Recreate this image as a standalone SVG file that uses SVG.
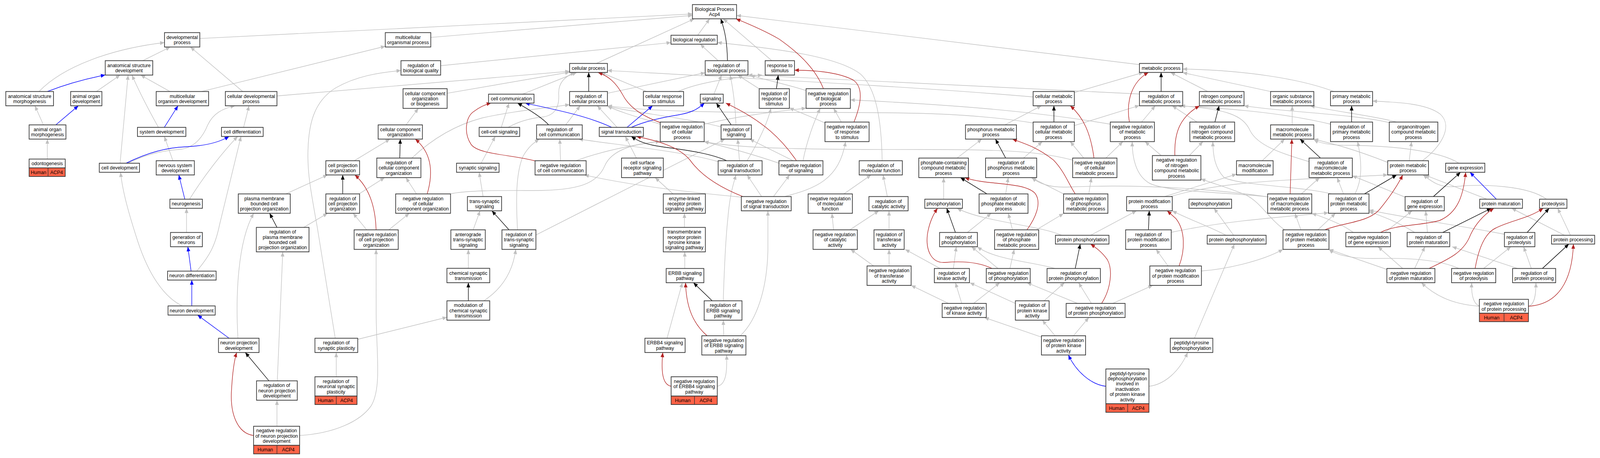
<svg xmlns="http://www.w3.org/2000/svg" width="4313" height="1173" viewBox="0 0 4313 1173">
<style>
.n rect{fill:#fff;stroke:#333;stroke-width:1.8}
.n rect.h{fill:#ff6347}
.n line{stroke:#333;stroke-width:1.5}
text{font-family:"Liberation Sans",Arial,sans-serif;font-size:13px;text-anchor:middle;fill:#000}
#edges path{fill:none;stroke-width:1.4}
#edges .g{stroke:#c0c0c0;marker-end:url(#mg)}
#edges .k{stroke:#000;marker-end:url(#mk)}
#edges .b{stroke:#0000ff;marker-end:url(#mb)}
#edges .r{stroke:#b22222;marker-end:url(#mr)}
</style>
<defs>
<marker id="mg" viewBox="0 0 12 10" refX="12" refY="5" markerWidth="12" markerHeight="10" markerUnits="userSpaceOnUse" orient="auto"><path d="M0,0L12,5L0,10z" fill="#c0c0c0"/></marker>
<marker id="mk" viewBox="0 0 12 10" refX="12" refY="5" markerWidth="12" markerHeight="10" markerUnits="userSpaceOnUse" orient="auto"><path d="M0,0L12,5L0,10z" fill="#000"/></marker>
<marker id="mb" viewBox="0 0 12 10" refX="12" refY="5" markerWidth="12" markerHeight="10" markerUnits="userSpaceOnUse" orient="auto"><path d="M0,0L12,5L0,10z" fill="#0000ff"/></marker>
<marker id="mr" viewBox="0 0 12 10" refX="12" refY="5" markerWidth="12" markerHeight="10" markerUnits="userSpaceOnUse" orient="auto"><path d="M0,0L12,5L0,10z" fill="#b22222"/></marker>
</defs>
<rect x="0" y="0" width="4313" height="1173" fill="#fff"/>
<g id="diagram" transform="scale(0.94968 1)">
<g id="edges">
<path class="g" d="M105,234.4 C170,170 300,125 443.5,109"/>
<path class="g" d="M384.8,155.4 L459,120.4"/>
<path class="g" d="M654.3,234.4 L513.3,120.4"/>
<path class="g" d="M259.9,234.4 L323.7,192.3"/>
<path class="g" d="M323.7,418 L345.3,192.3"/>
<path class="g" d="M427,326.2 C400,280 375,235 355.8,192.3"/>
<path class="g" d="M458.2,234.4 L379.2,192.3"/>
<path class="g" d="M543.2,234.4 L1038.6,118.5"/>
<path class="g" d="M117,319.8 L94.1,270.9"/>
<path class="g" d="M127.6,407.4 L127.6,356.3"/>
<path class="g" d="M656.6,326.2 L671.3,270.9"/>
<path class="g" d="M345,418 C400,392 450,385 480,383 C520,381 545,355 560,320 C575,290 600,278 633.6,270.9"/>
<path class="g" d="M511,510.2 C550,450 600,390 640.5,349.5"/>
<path class="g" d="M530.3,694.4 C565,655 580,630 592,575 L649.7,349.5"/>
<path class="g" d="M466,411.6 L443,349.5"/>
<path class="g" d="M502.8,595.4 L502.8,533.5"/>
<path class="g" d="M491.3,783.5 C440,760 400,700 372,620 C348,550 330,490 325,441.3"/>
<path class="g" d="M641.4,866.3 C635,760 640,620 684,546.3"/>
<path class="g" d="M903.7,866.3 L855.4,583 C838,490 830,450 830,400 C830,320 845,260 905,225 C960,195 1020,186 1080.9,180.6"/>
<path class="g" d="M1187.9,168.2 L1808.7,109.1"/>
<path class="g" d="M538.6,98.6 L1866.5,35.7"/>
<path class="g" d="M1161.2,95.9 L1866.5,39.5"/>
<path class="g" d="M746.6,245.7 L1535.5,182.5"/>
<path class="g" d="M1205.3,238.9 L1535.5,184.8"/>
<path class="g" d="M1408.7,241.2 L1554.8,185.5"/>
<path class="g" d="M1094.6,319.8 L1127.7,277.6"/>
<path class="g" d="M955,411.6 L1051,356.3"/>
<path class="g" d="M1110.3,404.8 C1160,360 1220,322 1300,302 C1380,285 1460,278 1535.5,268"/>
<path class="g" d="M1351.3,326.2 L1372,264.1"/>
<path class="g" d="M1297,418 L1335,349.5"/>
<path class="g" d="M1302.2,503.4 L1291.6,441.3"/>
<path class="g" d="M967.9,496.6 L1036.8,454.9"/>
<path class="g" d="M770.5,496.6 L883,448.1"/>
<path class="g" d="M1122.7,496.6 L1094.2,454.9"/>
<path class="g" d="M1213.6,496.6 C1260,486 1380,488 1440,488 C1560,488 1610,470 1630,425 C1650,380 1720,367 1779.8,362"/>
<path class="g" d="M988.6,588.6 L951.9,546.3"/>
<path class="g" d="M1048.3,588.6 L1103.4,546.3"/>
<path class="g" d="M818.7,582.4 L883,546.3"/>
<path class="g" d="M747.5,975.4 L762.2,645"/>
<path class="g" d="M746.6,1091.7 L746.6,1025"/>
<path class="g" d="M807.7,1115.4 C900,1110 970,1080 1000,1040 C1030,995 1014,900 1014,800 L1013.8,638.7"/>
<path class="g" d="M964.3,869 L1204.8,812.5"/>
<path class="g" d="M906.4,964.9 L906.4,902.8"/>
<path class="g" d="M1304,770.4 C1350,742 1382,700 1390.3,638.7"/>
<path class="g" d="M1262.5,687.2 L1262.5,638.7"/>
<path class="g" d="M1275.5,588.6 L1294,539.9"/>
<path class="g" d="M1395,588.6 C1390,500 1392,440 1410,400 C1425,375 1440,365 1453.8,356.3"/>
<path class="g" d="M1444.6,601.8 L1954.2,356.3"/>
<path class="g" d="M1511,411.6 L1509,356.3"/>
<path class="g" d="M1525,319.8 L1564,270.9"/>
<path class="g" d="M1663.6,326.2 L1610,270.9"/>
<path class="g" d="M1984,319.8 C1982,270 1975,220 1968,192.3"/>
<path class="g" d="M1924.4,241.2 L1945,192.3"/>
<path class="g" d="M2046,227.2 L1988.7,192.3"/>
<path class="g" d="M1828,234.4 C1880,212 1960,200 2055,192.3"/>
<path class="g" d="M1743,234.4 L1620,185.5"/>
<path class="g" d="M1637.4,238.9 L1901,186.2"/>
<path class="g" d="M1607.6,162.5 L1871.6,48.2"/>
<path class="g" d="M1880.8,90.3 L1913,48.2"/>
<path class="g" d="M1935.9,155.4 L1887.7,113.2"/>
<path class="g" d="M2080.5,155.4 L1949.6,48.2"/>
<path class="g" d="M3071.5,165.5 L1985.5,39.5"/>
<path class="g" d="M2378,411.6 C2376,300 2360,225 2320,190 C2260,145 2100,125 1933.6,109"/>
<path class="g" d="M2172.9,232 C2120,215 2060,205 2023,192.3"/>
<path class="g" d="M3071.5,240.8 C2800,225 2400,210 2016,192"/>
<path class="g" d="M2784.9,248.3 C2500,225 2200,210 1637.4,180.6"/>
<path class="g" d="M2784.9,315 C2600,286 2400,288 2160,288 C1900,288 1750,285 1637.4,270.9"/>
<path class="g" d="M2896.1,321.7 L3071.5,270.1"/>
<path class="g" d="M2708.7,319.8 L2807.4,270.9"/>
<path class="g" d="M2896,237 L3082,185.5"/>
<path class="g" d="M2580,404.8 L2646.7,356.3"/>
<path class="g" d="M2759.2,404.8 L2809.7,362.7"/>
<path class="g" d="M2921.3,404.8 L2885,362.7"/>
<path class="g" d="M2981,404.8 L3027,362.7"/>
<path class="g" d="M2891.5,410 C2800,387 2700,383 2500,383 C2200,383 2000,382 1898.2,362.7"/>
<path class="g" d="M2867,496.6 L2779.8,454.9"/>
<path class="g" d="M2935,496.6 L2942,454.9"/>
<path class="g" d="M2711,496.6 L2717.9,454.9"/>
<path class="g" d="M2543.7,510.2 L2543.7,454.9"/>
<path class="g" d="M2274.8,496.6 L2348,448.1"/>
<path class="g" d="M2391.9,503.4 L2380.4,448.1"/>
<path class="g" d="M2115,503.4 C2200,482 2262,460 2279.4,362.7"/>
<path class="g" d="M2247,588.6 L2242.6,546.3"/>
<path class="g" d="M2290.9,588.6 L2368.9,539.9"/>
<path class="g" d="M2396.5,588.6 L2396.5,539.9"/>
<path class="g" d="M2607.7,595.4 L2672,546.3"/>
<path class="g" d="M2862,602.6 C2800,577 2650,568 2580,533.5"/>
<path class="g" d="M2940,602.6 L3063.7,539.9"/>
<path class="g" d="M3304.7,602.6 C3260,580 3200,560 3160,539.9"/>
<path class="g" d="M3325.4,602.6 L3272.6,533.5"/>
<path class="g" d="M3139.4,503.4 L3333.2,446"/>
<path class="g" d="M3155.5,503.4 C3300,462 3500,460 3740.8,448"/>
<path class="g" d="M3157.3,595 C3300,566 3450,556 3581.1,545"/>
<path class="g" d="M3148.6,681.2 L3116.5,638.7"/>
<path class="g" d="M3238.6,694 C3300,690 3400,670 3458.5,638.7"/>
<path class="g" d="M2942,777.1 L2907.5,724.1"/>
<path class="g" d="M2999.4,777.1 L3107.3,730.9"/>
<path class="g" d="M2905,777.1 L2768.4,724.1"/>
<path class="g" d="M2893.8,859.9 L2935,813.2"/>
<path class="g" d="M3097.2,989.3 C3140,985 3180,950 3201.4,902.8"/>
<path class="g" d="M3219.8,866.3 L3327.6,625.1"/>
<path class="g" d="M3255.6,234.4 L3155.5,185.5"/>
<path class="g" d="M3425,234.4 L3188.1,186"/>
<path class="g" d="M3596,234.4 C3500,200 3350,180 3188.1,176.8"/>
<path class="g" d="M3077.4,312.6 L3114.2,270.9"/>
<path class="g" d="M3226.6,312.6 L3160,270.9"/>
<path class="g" d="M3130.2,398.4 L3086.6,362.7"/>
<path class="g" d="M3206,398.4 L3242.7,362.7"/>
<path class="g" d="M2993,318 C2800,287 2600,270 2292.2,255.8"/>
<path class="g" d="M3586.6,318 C3450,287 3300,277 3173.8,270.9"/>
<path class="g" d="M3745,314 C3650,292 3450,286 3353.4,270.9"/>
<path class="g" d="M3765,312.6 C3700,296 3600,286 3532,270.9"/>
<path class="g" d="M3483.3,319.8 L3483.3,270.9"/>
<path class="g" d="M3402.5,411.6 L3463,356.3"/>
<path class="g" d="M3508,496.6 L3557.2,454.9"/>
<path class="g" d="M3621.5,496.6 L3604.5,454.9"/>
<path class="g" d="M3528.8,414 C3450,392 3390,372 3370,335 C3350,292 3300,280 3183,270.9"/>
<path class="g" d="M3417.2,504 C3300,492 3150,492 3100,470 C3060,450 3052,400 3052,362.7"/>
<path class="g" d="M3834,411.6 C3880,380 3920,325 3882,292 C3845,265 3770,262 3700,258.8"/>
<path class="g" d="M3798.7,411.6 L3805.1,362.7"/>
<path class="g" d="M3740.8,416 C3650,382 3600,370 3541.6,356.3"/>
<path class="g" d="M3652.7,496.6 C3672,460 3672,420 3659.6,362.7"/>
<path class="g" d="M3788,505 L3645.3,450"/>
<path class="g" d="M3932.8,418 C3880,386 3750,372 3620,372 C3580,371 3555,365 3541.6,358"/>
<path class="g" d="M4008.5,510.2 L3841,448.1"/>
<path class="g" d="M4169,510.2 C4120,476 4000,470 3920,478 C3880,481 3860,465 3836,448.1"/>
<path class="g" d="M4217.4,602.6 L4075,533.5"/>
<path class="g" d="M4233.5,602.6 L4199,533.5"/>
<path class="g" d="M3813.4,595.4 C3780,575 3740,558 3690.3,541.8"/>
<path class="g" d="M4055.4,600 C3950,580 3800,560 3690.3,538"/>
<path class="g" d="M3847.8,595.4 L3843.2,539.9"/>
<path class="g" d="M3733,595.4 L3806.5,539.9"/>
<path class="g" d="M3648,595.4 C3620,575 3580,560 3536.1,546.3"/>
<path class="g" d="M3506.7,588.6 L3490.7,546.3"/>
<path class="g" d="M3552.6,588.6 L3600,546.3"/>
<path class="g" d="M3463,588.6 C3420,560 3400,520 3360,500 C3310,480 3270,470 3237.2,458"/>
<path class="g" d="M3590,496.6 C3500,476 3350,476 3300,455 C3275,430 3270,400 3269.3,362.7"/>
<path class="g" d="M3417.2,504 C3300,488 3100,470 2880,479 C2830,481 2800,470 2782,454.9"/>
<path class="g" d="M3781.2,687.6 L3714.7,631.9"/>
<path class="g" d="M3813.4,687.6 L3841,631.9"/>
<path class="g" d="M3738.5,690 L3582.5,638.7"/>
<path class="g" d="M3932.8,687.6 C3880,665 3800,660 3700,662 C3640,662 3600,652 3582.5,638.7"/>
<path class="g" d="M3999.3,687.6 L4072.8,631.9"/>
<path class="g" d="M4127.9,687.6 L4107.2,631.9"/>
<path class="g" d="M4091,687.6 L3914.4,631.9"/>
<path class="g" d="M3987.9,784.3 C3920,780 3870,760 3831.7,724.1"/>
<path class="g" d="M3990,784 C3970,780 3966,750 3967.2,724.1"/>
<path class="g" d="M4120.1,784.3 C4138,780 4140.5,750 4140.3,724.1"/>
<path class="g" d="M2534.2,687.6 L2440,638.7"/>
<path class="g" d="M2396.6,681.2 L2396.6,638.7"/>
<path class="g" d="M2355,681.2 L2293,638.7"/>
<path class="g" d="M2570,687.6 L2577.8,631.9"/>
<path class="g" d="M2690.3,687.6 L2619,631.9"/>
<path class="g" d="M2722.4,687.6 L2734,638.7"/>
<path class="g" d="M2844,687.6 C2780,670 2680,665 2634.7,631.9"/>
<path class="g" d="M2557,777.1 L2456.1,730.9"/>
<path class="g" d="M2592.5,777.1 L2575.5,724.1"/>
<path class="g" d="M2624.6,777.1 L2695,724.1"/>
<path class="g" d="M2737.1,777.1 L2614.5,724.1"/>
<path class="g" d="M2814.3,770.4 L2869.4,724.1"/>
<path class="g" d="M2807.4,863.3 L2653.6,813.2"/>
<path class="g" d="M2844,859.9 L2809.7,820"/>
<path class="g" d="M2729.3,588.6 L2718,546.3"/>
<path class="g" d="M2793.6,588.6 L2867,547"/>
<path class="g" d="M1715.5,404.8 L1685.6,349.5"/>
<path class="g" d="M1993.3,411.6 L1988.7,356.3"/>
<path class="g" d="M1936,414 C1850,390 1700,375 1559.4,356.3"/>
<path class="g" d="M2053,503.4 L2014,448.1"/>
<path class="g" d="M2085,503.4 L2128.7,448.1"/>
<path class="g" d="M2138,411.6 L2020.8,356.3"/>
<path class="g" d="M2164.6,411.6 C2175,360 2195,310 2211,277.6"/>
<path class="g" d="M2099.8,418 C2030,395 1960,377 1898.2,362.7"/>
<path class="g" d="M1552.5,411.6 C1620,388 1700,372 1779.8,362"/>
<path class="g" d="M2000,505 C1850,492 1700,475 1575.4,448.1"/>
<path class="g" d="M1814.2,496.6 L1766,454.9"/>
<path class="g" d="M1845,582.4 L1845,546.3"/>
<path class="g" d="M1845.9,687.6 L1845.9,645.1"/>
<path class="g" d="M1798.1,866.3 L1839.4,724.1"/>
<path class="g" d="M1951,859.9 L1949.6,820"/>
<path class="g" d="M1933.6,989.3 C1958,985 1960,950 1958.8,909.2"/>
<path class="g" d="M1949.6,770.4 C1952,700 1955,620 1962,560 C1967,500 1977,470 1984,448.1"/>
<path class="g" d="M1995.6,859.9 C2040,820 2068,740 2070,640 L2070,539.9"/>
<path class="g" d="M2014,411.6 C2040,370 2068,320 2078,277.6"/>
<path class="g" d="M2267.9,312.6 L2247.2,277.6"/>
<path class="g" d="M2223.8,315 C2190,300 2160,290 2127.8,276"/>
<path class="g" d="M1898.2,318 C2000,295 2100,285 2172.9,277"/>
<path class="g" d="M1779.8,318 C1720,300 1680,290 1637.4,272"/>
<path class="g" d="M1943.7,325 C1850,302 1700,287 1637.4,272"/>
<path class="g" d="M1369.7,326.2 C1400,310 1430,303 1460,300 C1500,296 1508,270 1506,240 C1505,210 1525,195 1550,185.5"/>
<path class="k" d="M1961,155.4 C1960,110 1955,80 1942.8,48.2"/>
<path class="k" d="M1587,234.4 L1587,185.5"/>
<path class="k" d="M1479,319.8 C1460,300 1425,280 1395,264.1"/>
<path class="k" d="M1971,319.8 L1931,264.1"/>
<path class="k" d="M2093,227.2 L2098,192.3"/>
<path class="k" d="M1077.6,404.8 L1079,356.3"/>
<path class="k" d="M923.9,496.6 L923.9,448.1"/>
<path class="k" d="M746.6,582.4 L726.9,546.3"/>
<path class="k" d="M725,975.4 L661.2,902.8"/>
<path class="k" d="M1262.5,770.4 L1262.5,724.1"/>
<path class="k" d="M1372,588.6 L1326,539.9"/>
<path class="k" d="M1958.8,411.6 C1900,386 1800,380 1760,372 C1730,366 1715,358 1701.7,349.5"/>
<path class="k" d="M1919.8,770.4 L1869.3,724.1"/>
<path class="k" d="M2841,312.6 L2841,270.9"/>
<path class="k" d="M2711,404.8 L2683.4,356.3"/>
<path class="k" d="M2660.5,496.6 L2589,454.9"/>
<path class="k" d="M2575.5,595.4 L2552,533.5"/>
<path class="k" d="M2898.4,687.6 L2912,625.1"/>
<path class="k" d="M3095.8,588.6 L3098,539.9"/>
<path class="k" d="M3130,234.4 L3130,185.5"/>
<path class="k" d="M3274.9,312.6 L3286.3,270.9"/>
<path class="k" d="M3643.5,312.6 L3643.5,270.9"/>
<path class="k" d="M3559.5,404.8 L3504.4,356.3"/>
<path class="k" d="M3678,496.6 L3765,448.1"/>
<path class="k" d="M3864,503.4 L3937,441.3"/>
<path class="k" d="M3889,595.4 L4020,533.5"/>
<path class="k" d="M4116.4,595.4 L4176,533.5"/>
<path class="k" d="M4157.7,687.6 L4229,625.1"/>
<path class="b" d="M127.6,234.4 C180,215 230,202 283.7,192"/>
<path class="b" d="M150.6,319.8 L211.2,270.9"/>
<path class="b" d="M443,326.2 L479.8,270.9"/>
<path class="b" d="M340,418 C400,390 450,378 500,376 C550,374 590,365 617.5,349.5"/>
<path class="b" d="M498.2,510.2 L482,448.1"/>
<path class="b" d="M515.1,694.4 L506.4,631.9"/>
<path class="b" d="M517,783.5 L517,717.3"/>
<path class="b" d="M617.5,866.3 L532.6,806.9"/>
<path class="b" d="M1649,326.2 C1590,300 1520,285 1415.6,264.1"/>
<path class="b" d="M1690.2,326.2 L1759.1,270.9"/>
<path class="b" d="M1701.7,326.2 C1740,310 1790,300 1830,294 C1865,288 1880,280 1899,264.1"/>
<path class="b" d="M4033.8,510.2 L3962.6,441.3"/>
<path class="b" d="M2981,989.3 C2940,985 2900,950 2880,909.2"/>
<path class="r" d="M2219.7,227.2 C2200,180 2160,140 2100,100 C2060,78 2020,62 1984,48.2"/>
<path class="r" d="M1779.8,314 C1740,300 1700,280 1680,245 C1660,210 1640,195 1612,185.5"/>
<path class="r" d="M1442.3,412 C1380,396 1290,396 1270,370 C1250,342 1255,302 1275,287 C1290,276 1305,268 1323.8,264.1"/>
<path class="r" d="M2147,411.6 C2110,360 2060,310 1956.5,264.1"/>
<path class="r" d="M2002.4,503.4 C1940,480 1890,450 1860,410 C1830,375 1770,360 1715.5,349.5"/>
<path class="r" d="M2302,312.6 C2320,270 2330,225 2300,205 C2260,185 2200,180 2141.6,179.8"/>
<path class="r" d="M1151.6,496.6 C1166,450 1168,395 1119.4,356.3"/>
<path class="r" d="M1013.8,588.6 C1012,530 995,480 956.5,448.1"/>
<path class="r" d="M683.6,1115.4 C640,1110 620,1060 624,1000 C627,950 632,920 638.2,902.8"/>
<path class="r" d="M1906,859.9 C1870,830 1850,790 1848,724.1"/>
<path class="r" d="M1809.1,989.3 C1785,985 1782,950 1786.6,902.8"/>
<path class="r" d="M2949,404.8 C2940,340 2920,300 2885,270.9"/>
<path class="r" d="M2898.4,496.6 C2880,470 2870,440 2840,410 C2800,380 2770,370 2729,356.3"/>
<path class="r" d="M2768.4,588.6 C2790,560 2810,520 2790,495 C2760,465 2660,475 2600.8,454.9"/>
<path class="r" d="M2674.2,687.6 C2640,672 2600,668 2550,672 C2510,676 2495,640 2500,600 C2505,570 2515,550 2527.3,533.5"/>
<path class="r" d="M2969.5,777.1 C2995,740 3000,690 2985,665 C2970,645 2955,635 2939.7,625.1"/>
<path class="r" d="M3178.4,681.2 C3195,640 3195,590 3170,560 L3146.3,539.9"/>
<path class="r" d="M3044.4,312.6 C3035,260 3050,210 3095.8,185.5"/>
<path class="r" d="M3167,398.4 C3165,340 3180,300 3233.5,270.9"/>
<path class="r" d="M3477.8,496.6 L3482.4,356.3"/>
<path class="r" d="M3571,588.6 C3620,570 3690,570 3720,535 C3750,500 3770,470 3781.2,448.1"/>
<path class="r" d="M3721.6,595.4 C3760,575 3830,578 3880,565 C3930,545 3945,500 3951,441.3"/>
<path class="r" d="M3852.4,687.6 C3900,665 3940,650 3960,610 C3975,575 4000,550 4027,533.5"/>
<path class="r" d="M3976.4,687.6 C3985,640 4000,600 4030,585 C4070,565 4120,560 4160,533.5"/>
<path class="r" d="M4120.1,784.3 C4200,780 4238,720 4241.3,625.1"/>
</g>
<g id="nodes">
<g id="bp" class="n"><rect x="1866.5" y="11.7" width="119" height="36.5"/><text x="1926" y="27.9">Biological Process</text><text x="1926" y="41.3">Acp4</text></g>
<g id="devproc" class="n"><rect x="443.5" y="83.5" width="95.1" height="36.9"/><text x="491.05" y="99.9">developmental</text><text x="491.05" y="113.3">process</text></g>
<g id="mop" class="n"><rect x="1038.6" y="83.5" width="122.6" height="36.9"/><text x="1099.9" y="99.9">multicellular</text><text x="1099.9" y="113.3">organismal process</text></g>
<g id="bioreg" class="n"><rect x="1808.7" y="90.3" width="124.9" height="22.9"/><text x="1871.15" y="106.4">biological regulation</text></g>
<g id="asd" class="n"><rect x="283.7" y="155.4" width="128.1" height="36.9"/><text x="347.75" y="171.8">anatomical structure</text><text x="347.75" y="185.2">development</text></g>
<g id="rbq" class="n"><rect x="1080.9" y="155.4" width="107" height="36.9"/><text x="1134.4" y="171.8">regulation of</text><text x="1134.4" y="185.2">biological quality</text></g>
<g id="cp" class="n"><rect x="1535.5" y="162.5" width="101.9" height="23"/><text x="1586.45" y="178.6">cellular process</text></g>
<g id="rbp" class="n"><rect x="1901" y="155.4" width="115.2" height="36.9"/><text x="1958.6" y="171.8">regulation of</text><text x="1958.6" y="185.2">biological process</text></g>
<g id="rts" class="n"><rect x="2062.6" y="155.4" width="79" height="36.9"/><text x="2102.1" y="171.8">response to</text><text x="2102.1" y="185.2">stimulus</text></g>
<g id="mp" class="n"><rect x="3071.5" y="162.5" width="116.6" height="23"/><text x="3129.8" y="178.6">metabolic process</text></g>
<g id="asm" class="n"><rect x="15.6" y="234.4" width="128.6" height="36.5"/><text x="79.9" y="250.6">anatomical structure</text><text x="79.9" y="264">morphogenesis</text></g>
<g id="aod" class="n"><rect x="190.5" y="234.4" width="84.1" height="36.5"/><text x="232.55" y="250.6">animal organ</text><text x="232.55" y="264">development</text></g>
<g id="mod" class="n"><rect x="421" y="234.4" width="141.4" height="36.5"/><text x="491.7" y="250.6">multicellular</text><text x="491.7" y="264">organism development</text></g>
<g id="cdp" class="n"><rect x="607.4" y="234.4" width="139.2" height="36.5"/><text x="677" y="250.6">cellular developmental</text><text x="677" y="264">process</text></g>
<g id="ccob" class="n"><rect x="1086.4" y="227.2" width="118.9" height="50.4"/><text x="1145.85" y="243.6">cellular component</text><text x="1145.85" y="257">organization</text><text x="1145.85" y="270.4">or biogenesis</text></g>
<g id="cc" class="n"><rect x="1316.9" y="241.2" width="122.6" height="22.9"/><text x="1378.2" y="257.3">cell communication</text></g>
<g id="rcp" class="n"><rect x="1535.5" y="234.4" width="101.9" height="36.5"/><text x="1586.45" y="250.6">regulation of</text><text x="1586.45" y="264">cellular process</text></g>
<g id="crs" class="n"><rect x="1734.3" y="234.4" width="108.4" height="36.5"/><text x="1788.5" y="250.6">cellular response</text><text x="1788.5" y="264">to stimulus</text></g>
<g id="sig" class="n"><rect x="1887.7" y="241.2" width="61.9" height="22.9"/><text x="1918.65" y="257.3">signaling</text></g>
<g id="rrs" class="n"><rect x="2046.5" y="227.2" width="81.3" height="50.4"/><text x="2087.15" y="243.6">regulation of</text><text x="2087.15" y="257">response to</text><text x="2087.15" y="270.4">stimulus</text></g>
<g id="nrbp" class="n"><rect x="2172.9" y="227.2" width="119.3" height="50.4"/><text x="2232.55" y="243.6">negative regulation</text><text x="2232.55" y="257">of biological</text><text x="2232.55" y="270.4">process</text></g>
<g id="cmp" class="n"><rect x="2784.9" y="234.4" width="111.2" height="36.5"/><text x="2840.5" y="250.6">cellular metabolic</text><text x="2840.5" y="264">process</text></g>
<g id="rmp" class="n"><rect x="3071.5" y="234.4" width="116.6" height="36.5"/><text x="3129.8" y="250.6">regulation of</text><text x="3129.8" y="264">metabolic process</text></g>
<g id="ncmp" class="n"><rect x="3233.1" y="234.4" width="120.3" height="36.5"/><text x="3293.25" y="250.6">nitrogen compound</text><text x="3293.25" y="264">metabolic process</text></g>
<g id="osmp" class="n"><rect x="3425" y="234.4" width="116.6" height="36.5"/><text x="3483.3" y="250.6">organic substance</text><text x="3483.3" y="264">metabolic process</text></g>
<g id="pmp" class="n"><rect x="3586.6" y="234.4" width="113.4" height="36.5"/><text x="3643.3" y="250.6">primary metabolic</text><text x="3643.3" y="264">process</text></g>
<g id="aom" class="n"><rect x="78.5" y="319.8" width="99.2" height="36.5"/><text x="128.1" y="336">animal organ</text><text x="128.1" y="349.4">morphogenesis</text></g>
<g id="sd" class="n"><rect x="370.5" y="326.2" width="130.5" height="23.3"/><text x="435.75" y="342.5">system development</text></g>
<g id="cd" class="n"><rect x="597" y="326.2" width="112.4" height="23.3"/><text x="653.2" y="342.5">cell differentiation</text></g>
<g id="cco" class="n"><rect x="1019.4" y="319.8" width="119.3" height="36.5"/><text x="1079.05" y="336">cellular component</text><text x="1079.05" y="349.4">organization</text></g>
<g id="ccs" class="n"><rect x="1291.6" y="326.2" width="109.3" height="23.3"/><text x="1346.25" y="342.5">cell-cell signaling</text></g>
<g id="rcc" class="n"><rect x="1446.4" y="319.8" width="123.1" height="36.5"/><text x="1507.95" y="336">regulation of</text><text x="1507.95" y="349.4">cell communication</text></g>
<g id="st" class="n"><rect x="1615.4" y="326.2" width="118.9" height="23.3"/><text x="1674.85" y="342.5">signal transduction</text></g>
<g id="nrcp" class="n"><rect x="1779.8" y="312.6" width="118.4" height="50.1"/><text x="1839" y="328.9">negative regulation</text><text x="1839" y="342.3">of cellular</text><text x="1839" y="355.7">process</text></g>
<g id="rsig" class="n"><rect x="1943.7" y="319.8" width="81.7" height="36.5"/><text x="1984.55" y="336">regulation of</text><text x="1984.55" y="349.4">signaling</text></g>
<g id="nrrs" class="n"><rect x="2223.8" y="312.6" width="118.9" height="50.1"/><text x="2283.25" y="328.9">negative regulation</text><text x="2283.25" y="342.3">of response</text><text x="2283.25" y="355.7">to stimulus</text></g>
<g id="phmp" class="n"><rect x="2602.6" y="319.8" width="137.3" height="36.5"/><text x="2671.25" y="336">phosphorus metabolic</text><text x="2671.25" y="349.4">process</text></g>
<g id="rcmp" class="n"><rect x="2784.9" y="312.6" width="111.2" height="50.1"/><text x="2840.5" y="328.9">regulation of</text><text x="2840.5" y="342.3">cellular metabolic</text><text x="2840.5" y="355.7">process</text></g>
<g id="nrmp" class="n"><rect x="2993" y="312.6" width="118.9" height="50.1"/><text x="3052.45" y="328.9">negative regulation</text><text x="3052.45" y="342.3">of metabolic</text><text x="3052.45" y="355.7">process</text></g>
<g id="rncmp" class="n"><rect x="3207.4" y="312.6" width="120.7" height="50.1"/><text x="3267.75" y="328.9">regulation of</text><text x="3267.75" y="342.3">nitrogen compound</text><text x="3267.75" y="355.7">metabolic process</text></g>
<g id="mmp" class="n"><rect x="3425" y="319.8" width="116.6" height="36.5"/><text x="3483.3" y="336">macromolecule</text><text x="3483.3" y="349.4">metabolic process</text></g>
<g id="rpmp" class="n"><rect x="3586.6" y="312.6" width="113.4" height="50.1"/><text x="3643.3" y="328.9">regulation of</text><text x="3643.3" y="342.3">primary metabolic</text><text x="3643.3" y="355.7">process</text></g>
<g id="oncmp" class="n"><rect x="3745" y="312.6" width="130.8" height="50.1"/><text x="3810.4" y="328.9">organonitrogen</text><text x="3810.4" y="342.3">compound metabolic</text><text x="3810.4" y="355.7">process</text></g>
<g id="odonto" class="n"><rect x="78.5" y="407.4" width="97.3" height="22.6"/><rect class="h" x="78.5" y="430" width="97.3" height="21.9"/><line x1="129.5" y1="430" x2="129.5" y2="451.9"/><text x="127.15" y="423.3">odontogenesis</text><text x="104" y="445.6">Human</text><text x="152.65" y="445.6">ACP4</text></g>
<g id="celldev" class="n"><rect x="267.7" y="418" width="108.3" height="23.3"/><text x="321.85" y="434.3">cell development</text></g>
<g id="nsd" class="n"><rect x="421" y="411.6" width="102.9" height="36.5"/><text x="472.45" y="427.8">nervous system</text><text x="472.45" y="441.2">development</text></g>
<g id="cpo" class="n"><rect x="878.4" y="411.6" width="90.9" height="36.5"/><text x="923.85" y="427.8">cell projection</text><text x="923.85" y="441.2">organization</text></g>
<g id="rcco" class="n"><rect x="1015.7" y="404.8" width="118.9" height="50.1"/><text x="1075.15" y="421.1">regulation of</text><text x="1075.15" y="434.5">cellular component</text><text x="1075.15" y="447.9">organization</text></g>
<g id="ss" class="n"><rect x="1230.6" y="418" width="114.7" height="23.3"/><text x="1287.95" y="434.3">synaptic signaling</text></g>
<g id="nrcc" class="n"><rect x="1442.3" y="411.6" width="137.7" height="36.5"/><text x="1511.15" y="427.8">negative regulation</text><text x="1511.15" y="441.2">of cell communication</text></g>
<g id="csrsp" class="n"><rect x="1675.5" y="404.8" width="112.5" height="50.1"/><text x="1731.75" y="421.1">cell surface</text><text x="1731.75" y="434.5">receptor signaling</text><text x="1731.75" y="447.9">pathway</text></g>
<g id="rst" class="n"><rect x="1935.9" y="411.6" width="118.4" height="36.5"/><text x="1995.1" y="427.8">regulation of</text><text x="1995.1" y="441.2">signal transduction</text></g>
<g id="nrsig" class="n"><rect x="2099.8" y="411.6" width="118.5" height="36.5"/><text x="2159.05" y="427.8">negative regulation</text><text x="2159.05" y="441.2">of signaling</text></g>
<g id="rmf" class="n"><rect x="2316.1" y="411.6" width="116.2" height="36.5"/><text x="2374.2" y="427.8">regulation of</text><text x="2374.2" y="441.2">molecular function</text></g>
<g id="pccmp" class="n"><rect x="2476.8" y="404.8" width="133.6" height="50.1"/><text x="2543.6" y="421.1">phosphate-containing</text><text x="2543.6" y="434.5">compound metabolic</text><text x="2543.6" y="447.9">process</text></g>
<g id="rphmp" class="n"><rect x="2656.8" y="404.8" width="137.7" height="50.1"/><text x="2725.65" y="421.1">regulation of</text><text x="2725.65" y="434.5">phosphorus metabolic</text><text x="2725.65" y="447.9">process</text></g>
<g id="nrcmp" class="n"><rect x="2891.5" y="404.8" width="119.4" height="50.1"/><text x="2951.2" y="421.1">negative regulation</text><text x="2951.2" y="434.5">of cellular</text><text x="2951.2" y="447.9">metabolic process</text></g>
<g id="nrncmp" class="n"><rect x="3106.4" y="398.4" width="130.8" height="62.9"/><text x="3171.8" y="414.4">negative regulation</text><text x="3171.8" y="427.8">of nitrogen</text><text x="3171.8" y="441.2">compound metabolic</text><text x="3171.8" y="454.6">process</text></g>
<g id="mm" class="n"><rect x="3333.2" y="411.6" width="98.7" height="36.5"/><text x="3382.55" y="427.8">macromolecule</text><text x="3382.55" y="441.2">modification</text></g>
<g id="rmmp" class="n"><rect x="3528.8" y="404.8" width="116.5" height="50.1"/><text x="3587.05" y="421.1">regulation of</text><text x="3587.05" y="434.5">macromolecule</text><text x="3587.05" y="447.9">metabolic process</text></g>
<g id="prmp" class="n"><rect x="3740.8" y="411.6" width="109.8" height="36.5"/><text x="3795.7" y="427.8">protein metabolic</text><text x="3795.7" y="441.2">process</text></g>
<g id="ge" class="n"><rect x="3897" y="418" width="105.6" height="23.3"/><text x="3949.8" y="434.3">gene expression</text></g>
<g id="neurog" class="n"><rect x="458" y="510.2" width="87.5" height="23.3"/><text x="501.75" y="526.5">neurogenesis</text></g>
<g id="pmbcpo" class="n"><rect x="642.3" y="496.6" width="140.1" height="49.7"/><text x="712.35" y="512.7">plasma membrane</text><text x="712.35" y="526.1">bounded cell</text><text x="712.35" y="539.5">projection organization</text></g>
<g id="rcpo" class="n"><rect x="878.4" y="496.6" width="90.9" height="49.7"/><text x="923.85" y="512.7">regulation of</text><text x="923.85" y="526.1">cell projection</text><text x="923.85" y="539.5">organization</text></g>
<g id="nrcco" class="n"><rect x="1066.6" y="496.6" width="147.9" height="49.7"/><text x="1140.55" y="512.7">negative regulation</text><text x="1140.55" y="526.1">of cellular</text><text x="1140.55" y="539.5">component organization</text></g>
<g id="tss" class="n"><rect x="1260" y="503.4" width="92.2" height="36.5"/><text x="1306.1" y="519.6">trans-synaptic</text><text x="1306.1" y="533">signaling</text></g>
<g id="elrpsp" class="n"><rect x="1788" y="496.6" width="113.4" height="49.7"/><text x="1844.7" y="512.7">enzyme-linked</text><text x="1844.7" y="526.1">receptor protein</text><text x="1844.7" y="539.5">signaling pathway</text></g>
<g id="nrst" class="n"><rect x="1998.3" y="503.4" width="134.5" height="36.5"/><text x="2065.55" y="519.6">negative regulation</text><text x="2065.55" y="533">of signal transduction</text></g>
<g id="nrmf" class="n"><rect x="2178.4" y="496.6" width="119.3" height="49.7"/><text x="2238.05" y="512.7">negative regulation</text><text x="2238.05" y="526.1">of molecular</text><text x="2238.05" y="539.5">function</text></g>
<g id="rca" class="n"><rect x="2342.3" y="503.4" width="105.6" height="36.5"/><text x="2395.1" y="519.6">regulation of</text><text x="2395.1" y="533">catalytic activity</text></g>
<g id="phos" class="n"><rect x="2492.9" y="510.2" width="101.4" height="23.3"/><text x="2543.6" y="526.5">phosphorylation</text></g>
<g id="rphosmp" class="n"><rect x="2639.3" y="496.6" width="131.8" height="49.7"/><text x="2705.2" y="512.7">regulation of</text><text x="2705.2" y="526.1">phosphate metabolic</text><text x="2705.2" y="539.5">process</text></g>
<g id="nrphmp" class="n"><rect x="2867" y="496.6" width="119.5" height="49.7"/><text x="2926.75" y="512.7">negative regulation</text><text x="2926.75" y="526.1">of phosphorus</text><text x="2926.75" y="539.5">metabolic process</text></g>
<g id="pmodp" class="n"><rect x="3037" y="503.4" width="123" height="36.5"/><text x="3098.5" y="519.6">protein modification</text><text x="3098.5" y="533">process</text></g>
<g id="dephos" class="n"><rect x="3205" y="510.2" width="114.9" height="23.3"/><text x="3262.45" y="526.5">dephosphorylation</text></g>
<g id="nrmmp" class="n"><rect x="3417.2" y="496.6" width="118.9" height="49.7"/><text x="3476.65" y="512.7">negative regulation</text><text x="3476.65" y="526.1">of macromolecule</text><text x="3476.65" y="539.5">metabolic process</text></g>
<g id="rprmp" class="n"><rect x="3581.1" y="496.6" width="109.2" height="49.7"/><text x="3635.7" y="512.7">regulation of</text><text x="3635.7" y="526.1">protein metabolic</text><text x="3635.7" y="539.5">process</text></g>
<g id="rge" class="n"><rect x="3787.7" y="503.4" width="105.6" height="36.5"/><text x="3840.5" y="519.6">regulation of</text><text x="3840.5" y="533">gene expression</text></g>
<g id="pmat" class="n"><rect x="3988.8" y="510.2" width="115.2" height="23.3"/><text x="4046.4" y="526.5">protein maturation</text></g>
<g id="prot" class="n"><rect x="4150" y="510.2" width="73.9" height="23.3"/><text x="4186.95" y="526.5">proteolysis</text></g>
<g id="gon" class="n"><rect x="459.6" y="595.4" width="85.9" height="36.5"/><text x="502.55" y="611.6">generation of</text><text x="502.55" y="625">neurons</text></g>
<g id="rpmbcpo" class="n"><rect x="691" y="582.4" width="142" height="62.6"/><text x="762" y="598.2">regulation of</text><text x="762" y="611.6">plasma membrane</text><text x="762" y="625">bounded cell</text><text x="762" y="638.4">projection organization</text></g>
<g id="nrcpo" class="n"><rect x="954.6" y="588.6" width="118.9" height="50.1"/><text x="1014.05" y="604.9">negative regulation</text><text x="1014.05" y="618.3">of cell projection</text><text x="1014.05" y="631.7">organization</text></g>
<g id="atss" class="n"><rect x="1215.4" y="588.6" width="92.8" height="50.1"/><text x="1261.8" y="604.9">anterograde</text><text x="1261.8" y="618.3">trans-synaptic</text><text x="1261.8" y="631.7">signaling</text></g>
<g id="rtss" class="n"><rect x="1353.1" y="588.6" width="91.5" height="50.1"/><text x="1398.85" y="604.9">regulation of</text><text x="1398.85" y="618.3">trans-synaptic</text><text x="1398.85" y="631.7">signaling</text></g>
<g id="trptksp" class="n"><rect x="1788" y="582.4" width="113.4" height="62.7"/><text x="1844.7" y="598.2">transmembrane</text><text x="1844.7" y="611.6">receptor protein</text><text x="1844.7" y="625">tyrosine kinase</text><text x="1844.7" y="638.4">signaling pathway</text></g>
<g id="ncat" class="n"><rect x="2191.7" y="588.6" width="119.3" height="50.1"/><text x="2251.35" y="604.9">negative regulation</text><text x="2251.35" y="618.3">of catalytic</text><text x="2251.35" y="631.7">activity</text></g>
<g id="rta" class="n"><rect x="2356" y="588.6" width="81.3" height="50.1"/><text x="2396.65" y="604.9">regulation of</text><text x="2396.65" y="618.3">transferase</text><text x="2396.65" y="631.7">activity</text></g>
<g id="rphos" class="n"><rect x="2532.8" y="595.4" width="101.9" height="36.5"/><text x="2583.75" y="611.6">regulation of</text><text x="2583.75" y="625">phosphorylation</text></g>
<g id="nrphosmp" class="n"><rect x="2681.1" y="588.6" width="118.9" height="50.1"/><text x="2740.55" y="604.9">negative regulation</text><text x="2740.55" y="618.3">of phosphate</text><text x="2740.55" y="631.7">metabolic process</text></g>
<g id="pphos" class="n"><rect x="2845" y="602.6" width="144.3" height="22.5"/><text x="2917.15" y="618.5">protein phosphorylation</text></g>
<g id="rpmodp" class="n"><rect x="3034.3" y="588.6" width="123" height="50.1"/><text x="3095.8" y="604.9">regulation of</text><text x="3095.8" y="618.3">protein modification</text><text x="3095.8" y="631.7">process</text></g>
<g id="pdephos" class="n"><rect x="3254.2" y="602.6" width="158.8" height="22.5"/><text x="3333.6" y="618.5">protein dephosphorylation</text></g>
<g id="nrprmp" class="n"><rect x="3458.5" y="588.6" width="124" height="50.1"/><text x="3520.5" y="604.9">negative regulation</text><text x="3520.5" y="618.3">of protein metabolic</text><text x="3520.5" y="631.7">process</text></g>
<g id="nrge" class="n"><rect x="3627.9" y="595.4" width="120.3" height="36.5"/><text x="3688.05" y="611.6">negative regulation</text><text x="3688.05" y="625">of gene expression</text></g>
<g id="rpmat" class="n"><rect x="3793.2" y="595.4" width="114.8" height="36.5"/><text x="3850.6" y="611.6">regulation of</text><text x="3850.6" y="625">protein maturation</text></g>
<g id="rprot" class="n"><rect x="4055.4" y="595.4" width="82.1" height="36.5"/><text x="4096.45" y="611.6">regulation of</text><text x="4096.45" y="625">proteolysis</text></g>
<g id="pproc" class="n"><rect x="4182.5" y="602.6" width="116.2" height="22.5"/><text x="4240.6" y="618.5">protein processing</text></g>
<g id="ndiff" class="n"><rect x="451.8" y="694.4" width="130.8" height="22.9"/><text x="517.2" y="710.5">neuron differentiation</text></g>
<g id="cst" class="n"><rect x="1204.8" y="687.2" width="115.3" height="36.9"/><text x="1262.45" y="703.6">chemical synaptic</text><text x="1262.45" y="717">transmission</text></g>
<g id="erbb" class="n"><rect x="1795.8" y="687.6" width="101.5" height="36.5"/><text x="1846.55" y="703.8">ERBB signaling</text><text x="1846.55" y="717.2">pathway</text></g>
<g id="nrta" class="n"><rect x="2337.2" y="681.2" width="118.9" height="49.7"/><text x="2396.65" y="697.3">negative regulation</text><text x="2396.65" y="710.7">of transferase</text><text x="2396.65" y="724.1">activity</text></g>
<g id="rka" class="n"><rect x="2518.6" y="687.6" width="94.6" height="36.5"/><text x="2565.9" y="703.8">regulation of</text><text x="2565.9" y="717.2">kinase activity</text></g>
<g id="nrphos" class="n"><rect x="2658.6" y="687.6" width="118.5" height="36.5"/><text x="2717.85" y="703.8">negative regulation</text><text x="2717.85" y="717.2">of phosphorylation</text></g>
<g id="rpphos" class="n"><rect x="2822.5" y="687.6" width="143.8" height="36.5"/><text x="2894.4" y="703.8">regulation of</text><text x="2894.4" y="717.2">protein phosphorylation</text></g>
<g id="nrpmodp" class="n"><rect x="3099.5" y="681.2" width="139.1" height="49.7"/><text x="3169.05" y="697.3">negative regulation</text><text x="3169.05" y="710.7">of protein modification</text><text x="3169.05" y="724.1">process</text></g>
<g id="nrpmat" class="n"><rect x="3738.5" y="687.6" width="129.5" height="36.5"/><text x="3803.25" y="703.8">negative regulation</text><text x="3803.25" y="717.2">of protein maturation</text></g>
<g id="nrprot" class="n"><rect x="3913" y="687.6" width="119" height="36.5"/><text x="3972.5" y="703.8">negative regulation</text><text x="3972.5" y="717.2">of proteolysis</text></g>
<g id="rpproc" class="n"><rect x="4077.4" y="687.6" width="116.1" height="36.5"/><text x="4135.45" y="703.8">regulation of</text><text x="4135.45" y="717.2">protein processing</text></g>
<g id="ndev" class="n"><rect x="453" y="783.5" width="127" height="23.4"/><text x="516.5" y="799.8">neuron development</text></g>
<g id="mcst" class="n"><rect x="1204.8" y="770.4" width="115.3" height="49.6"/><text x="1262.45" y="786.4">modulation of</text><text x="1262.45" y="799.8">chemical synaptic</text><text x="1262.45" y="813.2">transmission</text></g>
<g id="rerbb" class="n"><rect x="1898.2" y="770.4" width="101.9" height="49.6"/><text x="1949.15" y="786.4">regulation of</text><text x="1949.15" y="799.8">ERBB signaling</text><text x="1949.15" y="813.2">pathway</text></g>
<g id="nrka" class="n"><rect x="2539.7" y="777.1" width="118.9" height="36.1"/><text x="2599.15" y="793.1">negative regulation</text><text x="2599.15" y="806.5">of kinase activity</text></g>
<g id="rpka" class="n"><rect x="2737.1" y="770.4" width="90.9" height="49.6"/><text x="2782.55" y="786.4">regulation of</text><text x="2782.55" y="799.8">protein kinase</text><text x="2782.55" y="813.2">activity</text></g>
<g id="nrpphos" class="n"><rect x="2874" y="777.1" width="158.9" height="36.1"/><text x="2953.45" y="793.1">negative regulation</text><text x="2953.45" y="806.5">of protein phosphorylation</text></g>
<g id="nrpproc" class="n"><rect x="3987.9" y="766.6" width="132.2" height="35.7"/><rect class="h" x="3987.9" y="802.3" width="132.2" height="21.5"/><line x1="4054.4" y1="802.3" x2="4054.4" y2="823.8"/><text x="4054" y="782.4">negative regulation</text><text x="4054" y="795.8">of protein processing</text><text x="4021.15" y="817.7">Human</text><text x="4087.25" y="817.7">ACP4</text></g>
<g id="npd" class="n"><rect x="589" y="866.3" width="109.3" height="36.5"/><text x="643.65" y="882.5">neuron projection</text><text x="643.65" y="895.9">development</text></g>
<g id="rsp" class="n"><rect x="849" y="866.3" width="115.3" height="36.5"/><text x="906.65" y="882.5">regulation of</text><text x="906.65" y="895.9">synaptic plasticity</text></g>
<g id="erbb4" class="n"><rect x="1738.4" y="866.3" width="108.4" height="36.5"/><text x="1792.6" y="882.5">ERBB4 signaling</text><text x="1792.6" y="895.9">pathway</text></g>
<g id="nrerbb" class="n"><rect x="1891.8" y="859.9" width="118.9" height="49.3"/><text x="1951.25" y="875.8">negative regulation</text><text x="1951.25" y="889.2">of ERBB signaling</text><text x="1951.25" y="902.6">pathway</text></g>
<g id="nrpka" class="n"><rect x="2807.4" y="859.9" width="119" height="49.3"/><text x="2866.9" y="875.8">negative regulation</text><text x="2866.9" y="889.2">of protein kinase</text><text x="2866.9" y="902.6">activity</text></g>
<g id="ptdephos" class="n"><rect x="3154.6" y="866.3" width="114.7" height="36.5"/><text x="3211.95" y="882.5">peptidyl-tyrosine</text><text x="3211.95" y="895.9">dephosphorylation</text></g>
<g id="rnpd" class="n"><rect x="691.5" y="975.4" width="109.8" height="49.6"/><text x="746.4" y="991.4">regulation of</text><text x="746.4" y="1004.8">neuron projection</text><text x="746.4" y="1018.2">development</text></g>
<g id="rnsp" class="n"><rect x="849" y="964.9" width="113.4" height="49.6"/><rect class="h" x="849" y="1014.5" width="113.4" height="21.5"/><line x1="906.4" y1="1014.5" x2="906.4" y2="1036"/><text x="905.7" y="980.9">regulation of</text><text x="905.7" y="994.3">neuronal synaptic</text><text x="905.7" y="1007.7">plasticity</text><text x="877.7" y="1029.9">Human</text><text x="934.4" y="1029.9">ACP4</text></g>
<g id="nrerbb4" class="n"><rect x="1809.1" y="964.9" width="124.5" height="49.6"/><rect class="h" x="1809.1" y="1014.5" width="124.5" height="21.5"/><line x1="1872" y1="1014.5" x2="1872" y2="1036"/><text x="1871.35" y="980.9">negative regulation</text><text x="1871.35" y="994.3">of ERBB4 signaling</text><text x="1871.35" y="1007.7">pathway</text><text x="1840.55" y="1029.9">Human</text><text x="1902.8" y="1029.9">ACP4</text></g>
<g id="ptdiipka" class="n"><rect x="2981" y="944.9" width="116.2" height="89.2"/><rect class="h" x="2981" y="1034.1" width="116.2" height="21.8"/><line x1="3039.8" y1="1034.1" x2="3039.8" y2="1055.9"/><text x="3039.1" y="960.6">peptidyl-tyrosine</text><text x="3039.1" y="974">dephosphorylation</text><text x="3039.1" y="987.4">involved in</text><text x="3039.1" y="1000.8">inactivation</text><text x="3039.1" y="1014.2">of protein kinase</text><text x="3039.1" y="1027.6">activity</text><text x="3010.4" y="1049.6">Human</text><text x="3068.5" y="1049.6">ACP4</text></g>
<g id="nrnpd" class="n"><rect x="683.6" y="1091.7" width="124.1" height="48.9"/><rect class="h" x="683.6" y="1140.6" width="124.1" height="21.8"/><line x1="746.6" y1="1140.6" x2="746.6" y2="1162.4"/><text x="745.65" y="1107.4">negative regulation</text><text x="745.65" y="1120.8">of neuron projection</text><text x="745.65" y="1134.2">development</text><text x="715.1" y="1156.1">Human</text><text x="777.15" y="1156.1">ACP4</text></g>
</g>
</g>
</svg>
